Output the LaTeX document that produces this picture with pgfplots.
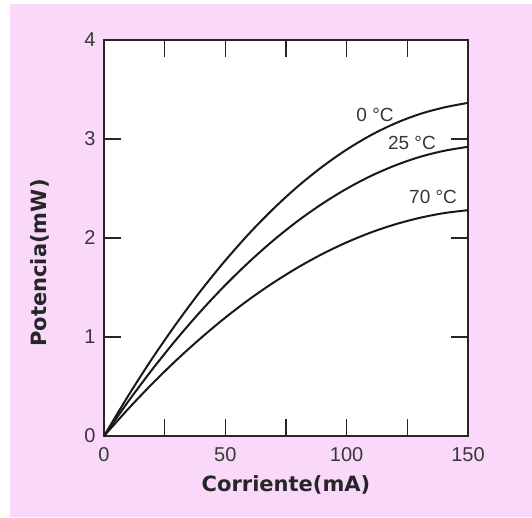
\documentclass[border=0pt]{standalone}
\usepackage{fontspec}
\setmainfont{Liberation Sans}
\newfontfamily\labelfont{DejaVu Sans}
\usepackage{pgfplots}
\pgfplotsset{compat=1.18}
\definecolor{bgpink}{RGB}{250,216,250}
\definecolor{ticktxt}{RGB}{55,55,55}
\begin{document}
\begin{tikzpicture}[x=1pt,y=1pt]
\useasboundingbox (0,0) rectangle (532,517);
\fill[white] (0,0) rectangle (532,517);
\fill[bgpink] (10,0) rectangle (532,513);
\begin{axis}[
  at={(104pt,81pt)}, anchor=south west,
  scale only axis, width=364pt, height=396pt,
  xmin=0, xmax=150, ymin=0, ymax=4,
  axis background/.style={fill=white},
  axis line style={line width=1.8pt, black!85},
  xtick={0,25,50,75,100,125,150},
  xticklabels={0,,50,,100,,150},
  ytick={0,1,2,3,4},
  tick align=inside, tick pos=both,
  major tick length=17pt,
  every tick/.style={line width=1.5pt, black!85},
  tick label style={font=\fontsize{20}{20}\selectfont, text=ticktxt},
  /pgf/number format/assume math mode=true,
  xticklabel style={yshift=-8pt},
  yticklabel style={xshift=-5pt},
  xlabel={Corriente(mA)},
  ylabel={Potencia(mW)},
  xlabel style={at={(axis description cs:0.5,-0.124)}, anchor=center, font=\labelfont\bfseries\fontsize{21}{21}\selectfont, text=black!85},
  ylabel style={at={(axis description cs:-0.176,0.437)}, anchor=center, font=\labelfont\bfseries\fontsize{21}{21}\selectfont, text=black!85},
  clip=false,
]
\addplot[black!90, line width=2pt, smooth] coordinates {
(0,0) (10,0.407) (20,0.788) (30,1.142) (40,1.471) (50,1.773) (60,2.050) (70,2.300) (80,2.524) (90,2.721) (100,2.893) (110,3.039) (120,3.158) (130,3.251) (140,3.318) (150,3.365)};
\addplot[black!90, line width=2pt, smooth] coordinates {
(0,0) (10,0.349) (20,0.676) (30,0.981) (40,1.264) (50,1.525) (60,1.763) (70,1.980) (80,2.175) (90,2.347) (100,2.498) (110,2.627) (120,2.733) (130,2.818) (140,2.880) (150,2.921)};
\addplot[black!90, line width=2pt, smooth] coordinates {
(0,0) (10,0.274) (20,0.531) (30,0.770) (40,0.991) (50,1.196) (60,1.383) (70,1.552) (80,1.704) (90,1.839) (100,1.956) (110,2.056) (120,2.138) (130,2.203) (140,2.251) (150,2.281)};
\node[font=\fontsize{19}{19}\selectfont, text=ticktxt] at (axis cs:111.7,3.24) {0 \textdegree C};
\node[font=\fontsize{19}{19}\selectfont, text=ticktxt] at (axis cs:126.9,2.96) {25 \textdegree C};
\node[font=\fontsize{19}{19}\selectfont, text=ticktxt] at (axis cs:135.6,2.41) {70 \textdegree C};
\end{axis}
\end{tikzpicture}
\end{document}
